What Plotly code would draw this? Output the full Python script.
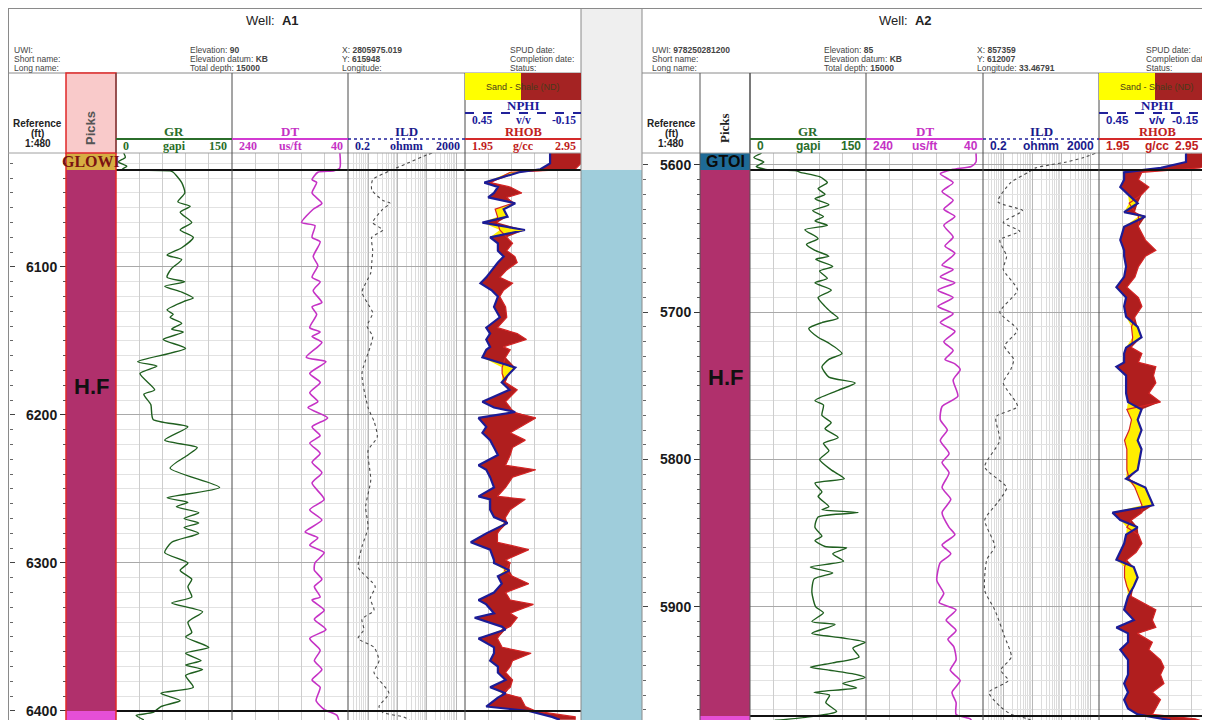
import math
import plotly.graph_objects as go

# The page body adds an 8px margin, so the figure is placed at (8, 8) of the window.
OFF = 8
W, H = 1210 - OFF, 720 - OFF
def PX(px): return (px - OFF) / W
def PY(py): return 1 - (py - OFF) / H

SANS = "Liberation Sans"
SERIF = "Liberation Serif"

# ---------------- Well A1 data ----------------
a1_gr_depth = [6023, 6026, 6029, 6032, 6034, 6035, 6036, 6043, 6050, 6056, 6059, 6063, 6070, 6075, 6080, 6087, 6092, 6095, 6101, 6107,
               6110, 6113, 6117, 6121, 6123, 6129, 6132, 6134, 6138, 6142, 6144, 6149, 6155, 6164, 6167, 6172, 6183, 6186, 6193, 6203,
               6208, 6217, 6222, 6227, 6236, 6249, 6256, 6259, 6262, 6266, 6270, 6273, 6276, 6280, 6286, 6293, 6300, 6305, 6311, 6316,
               6323, 6327, 6333, 6340, 6347, 6350, 6357, 6361, 6366, 6369, 6372, 6376, 6384, 6388, 6393, 6397, 6401, 6403, 6406]
a1_gr = [10, 12, 3, 14, 8, 70, 74, 85, 89, 80, 96, 83, 98, 83, 100, 85, 66, 85, 72, 66,
         89, 63, 85, 100, 89, 66, 74, 70, 85, 72, 87, 61, 90, 28, 53, 31, 50, 36, 45, 48,
         93, 63, 105, 93, 70, 134, 66, 93, 78, 107, 88, 107, 88, 107, 72, 63, 93, 83, 98, 93,
         98, 72, 112, 93, 98, 90, 120, 90, 110, 90, 112, 90, 100, 58, 83, 58, 48, 26, 36]

a1_dt_depth = [6023, 6033, 6035, 6036, 6041, 6043, 6050, 6057, 6061, 6070, 6072, 6080, 6083, 6093, 6099, 6107, 6110, 6116, 6124, 6127,
               6132, 6141, 6144, 6147, 6151, 6161, 6164, 6172, 6178, 6185, 6191, 6195, 6202, 6208, 6214, 6219, 6226, 6232, 6239, 6246,
               6257, 6264, 6271, 6279, 6283, 6288, 6293, 6300, 6305, 6311, 6316, 6323, 6325, 6332, 6338, 6345, 6351, 6359, 6366, 6372,
               6379, 6384, 6393, 6399, 6403, 6406]
a1_dt = [54, 54, 64, 92, 102, 94, 102, 85, 100, 120, 97, 102, 88, 100, 92, 102, 88, 100, 85, 102,
         94, 106, 88, 102, 85, 112, 78, 106, 88, 106, 92, 109, 75, 102, 88, 106, 88, 102, 85, 102,
         81, 106, 85, 114, 92, 106, 81, 97, 98, 85, 98, 88, 102, 81, 98, 78, 106, 88, 98, 85,
         102, 88, 95, 81, 59, 56]

a1_ild_depth = [6023, 6024, 6030, 6035, 6041, 6048, 6055, 6057, 6061, 6070, 6075, 6080, 6089, 6097, 6104, 6117, 6124, 6131, 6140, 6147,
                6154, 6172, 6195, 6205, 6215, 6224, 6244, 6262, 6276, 6289, 6303, 6316, 6324, 6332, 6338, 6345, 6351, 6357, 6366, 6374,
                6388, 6397, 6401, 6404, 6406]
a1_ild = [150, 108, 21, 5.5, 1.4, 1.3, 3.1, 5.5, 3.1, 1.4, 3.1, 1.3, 1.4, 1.3, 1.2, 0.6, 0.9, 1.4, 0.9, 1.4,
          1.15, 0.6, 0.97, 1.6, 2.0, 0.97, 1.2, 0.8, 0.97, 0.6, 0.45, 1.7, 1.15, 1.55, 0.6, 0.7, 0.44, 1.55, 2.3, 1.55,
          5.0, 2.3, 3.1, 16, 25]

a1_nd_depth = [6023, 6030, 6034, 6036, 6043, 6046, 6050, 6053, 6057, 6061, 6066, 6070, 6075, 6080, 6084, 6089, 6093, 6097, 6102, 6107,
               6111, 6116, 6120, 6127, 6134, 6141, 6145, 6149, 6154, 6156, 6161, 6168, 6172, 6178, 6183, 6191, 6195, 6198, 6202, 6208,
               6212, 6217, 6222, 6227, 6234, 6237, 6242, 6249, 6255, 6257, 6264, 6269, 6273, 6280, 6286, 6291, 6298, 6300, 6305, 6309,
               6314, 6320, 6325, 6328, 6334, 6337, 6343, 6345, 6351, 6357, 6361, 6366, 6370, 6374, 6379, 6384, 6388, 6391, 6397, 6400,
               6404, 6406]
a1_rhob = [2.95, 2.95, 2.90, 2.34, 2.17, 2.34, 2.44, 2.31, 2.36, 2.21, 2.23, 2.23, 2.25, 2.31, 2.36, 2.31, 2.38, 2.40, 2.31, 2.25,
           2.36, 2.28, 2.25, 2.30, 2.31, 2.23, 2.40, 2.48, 2.28, 2.34, 2.30, 2.27, 2.27, 2.30, 2.40, 2.30, 2.34, 2.35, 2.56, 2.43,
           2.34, 2.47, 2.36, 2.34, 2.30, 2.56, 2.36, 2.30, 2.23, 2.47, 2.34, 2.30, 2.29, 2.23, 2.23, 2.50, 2.30, 2.34, 2.29, 2.36,
           2.50, 2.30, 2.34, 2.54, 2.34, 2.40, 2.34, 2.27, 2.23, 2.27, 2.52, 2.36, 2.34, 2.30, 2.36, 2.34, 2.27, 2.43, 2.47, 2.56,
           2.90, 2.90]
a1_nphi = [0.01, 0.01, 0.06, 0.17, 0.35, 0.28, 0.30, 0.33, 0.19, 0.25, 0.23, 0.36, 0.14, 0.32, 0.28, 0.28, 0.25, 0.28, 0.31, 0.34,
           0.37, 0.31, 0.28, 0.30, 0.27, 0.34, 0.32, 0.34, 0.32, 0.34, 0.36, 0.19, 0.22, 0.26, 0.22, 0.36, 0.30, 0.19, 0.38, 0.34,
           0.36, 0.32, 0.30, 0.28, 0.38, 0.34, 0.32, 0.30, 0.38, 0.32, 0.32, 0.30, 0.23, 0.34, 0.42, 0.32, 0.30, 0.30, 0.22, 0.28,
           0.26, 0.30, 0.38, 0.34, 0.30, 0.40, 0.26, 0.24, 0.38, 0.30, 0.30, 0.32, 0.28, 0.28, 0.24, 0.32, 0.24, 0.28, 0.34, 0.12,
           0.00, -0.04]

a1_pick_tops = [6000.0, 6034.5, 6400.0]
a1_pick_bases = [6034.5, 6400.0, 6450.0]
a1_pick_names = ["GLOWI", "H.F", ""]
a1_pick_label_depths = [6028.7, 6181.0, None]

# ---------------- Well A2 data ----------------
a2_gr_depth = [5592, 5595, 5598, 5601, 5603, 5604, 5605, 5608, 5612, 5616, 5620, 5623, 5627, 5631, 5635, 5638, 5641, 5644, 5650, 5654,
               5658, 5662, 5664, 5669, 5672, 5677, 5680, 5685, 5690, 5696, 5700, 5704, 5707, 5711, 5717, 5721, 5728, 5732, 5737, 5744,
               5748, 5753, 5760, 5763, 5770, 5775, 5779, 5785, 5789, 5794, 5800, 5807, 5813, 5816, 5822, 5825, 5832, 5834, 5836, 5839,
               5846, 5852, 5855, 5859, 5860, 5864, 5869, 5873, 5877, 5881, 5890, 5900, 5904, 5910, 5912, 5918, 5921, 5924, 5928, 5934,
               5938, 5941, 5943, 5946, 5948, 5952, 5955, 5958, 5960, 5965, 5971, 5975, 5977]
a2_gr = [15, 5, 18, 8, 20, 60, 65, 90, 100, 88, 97, 84, 102, 81, 95, 84, 100, 71, 88, 73,
         84, 102, 85, 107, 90, 100, 84, 105, 88, 97, 105, 114, 93, 76, 88, 102, 119, 102, 93, 102,
         136, 114, 84, 95, 93, 105, 97, 114, 95, 102, 90, 105, 122, 84, 93, 88, 102, 93, 140, 88,
         84, 93, 84, 97, 125, 107, 121, 78, 107, 83, 80, 85, 95, 80, 110, 80, 118, 149, 133, 141,
         107, 78, 103, 138, 149, 120, 138, 83, 103, 98, 112, 72, 32]

a2_dt_depth = [5592, 5598, 5601, 5603, 5606, 5612, 5618, 5624, 5630, 5635, 5641, 5649, 5655, 5660, 5668, 5671, 5676, 5680, 5685, 5690,
               5696, 5701, 5707, 5713, 5720, 5726, 5732, 5735, 5739, 5746, 5757, 5764, 5773, 5780, 5787, 5796, 5802, 5809, 5819, 5827,
               5836, 5846, 5851, 5858, 5864, 5870, 5882, 5891, 5897, 5902, 5909, 5916, 5922, 5927, 5936, 5943, 5950, 5958, 5965, 5973,
               5976, 5977]
a2_dt = [52, 52, 60, 91, 113, 91, 110, 91, 107, 88, 107, 91, 105, 88, 110, 91, 113, 88, 117, 91,
         117, 91, 113, 88, 107, 91, 105, 88, 79, 91, 83, 110, 113, 101, 113, 98, 110, 98, 110, 95,
         110, 98, 88, 110, 95, 113, 119, 107, 115, 86, 103, 86, 100, 90, 86, 96, 79, 93, 86, 86,
         62, 60]

a2_ild_depth = [5592, 5595, 5598, 5600, 5602, 5605, 5612, 5625, 5631, 5639, 5645, 5651, 5662, 5671, 5685, 5700, 5712, 5723, 5732, 5739,
                5748, 5764, 5771, 5787, 5805, 5819, 5829, 5841, 5859, 5868, 5889, 5902, 5920, 5934, 5943, 5950, 5958, 5968, 5973, 5976,
                5977]
a2_ild = [1500, 600, 150, 40, 13, 7.4, 1.8, 0.65, 4.6, 1.0, 3.7, 0.76, 1.3, 1.0, 3.1, 0.76, 3.1, 1.1, 2.3, 1.8,
          1.0, 3.1, 0.56, 0.76, 0.23, 1.3, 0.65, 0.23, 0.51, 0.27, 0.23, 0.51, 1.1, 1.9, 0.82, 1.5, 0.32, 0.82, 1.9, 7,
          9]

a2_nd_depth = [5592, 5598, 5602, 5605, 5610, 5615, 5620, 5626, 5632, 5635, 5642, 5651, 5658, 5662, 5669, 5676, 5683, 5690, 5696, 5703,
               5710, 5717, 5724, 5728, 5734, 5737, 5743, 5748, 5755, 5761, 5766, 5773, 5780, 5787, 5793, 5800, 5807, 5813, 5819, 5825,
               5831, 5836, 5841, 5846, 5851, 5857, 5863, 5868, 5873, 5880, 5886, 5893, 5902, 5909, 5914, 5918, 5924, 5929, 5936, 5941,
               5946, 5952, 5958, 5963, 5969, 5973, 5976, 5977]
a2_rhob = [2.95, 2.95, 2.82, 2.32, 2.29, 2.38, 2.32, 2.21, 2.26, 2.29, 2.29, 2.35, 2.44, 2.35, 2.29, 2.26, 2.19, 2.29, 2.32, 2.26,
           2.23, 2.24, 2.23, 2.32, 2.29, 2.44, 2.42, 2.44, 2.38, 2.48, 2.19, 2.23, 2.21, 2.17, 2.19, 2.19, 2.19, 2.21, 2.26, 2.29,
           2.32, 2.32, 2.23, 2.19, 2.29, 2.32, 2.27, 2.19, 2.17, 2.17, 2.19, 2.23, 2.44, 2.41, 2.44, 2.28, 2.41, 2.38, 2.48, 2.51,
           2.48, 2.51, 2.41, 2.48, 2.44, 2.41, 2.78, 2.82]
a2_nphi = [0.00, 0.00, 0.13, 0.32, 0.32, 0.34, 0.30, 0.25, 0.32, 0.21, 0.32, 0.34, 0.32, 0.32, 0.31, 0.32, 0.36, 0.31, 0.32, 0.31,
           0.25, 0.23, 0.31, 0.32, 0.32, 0.36, 0.31, 0.31, 0.31, 0.30, 0.23, 0.25, 0.23, 0.25, 0.23, 0.24, 0.25, 0.31, 0.21, 0.19,
           0.17, 0.38, 0.34, 0.25, 0.31, 0.32, 0.34, 0.36, 0.27, 0.25, 0.27, 0.30, 0.32, 0.27, 0.36, 0.30, 0.30, 0.34, 0.30, 0.30,
           0.30, 0.32, 0.30, 0.32, 0.30, 0.25, 0.11, 0.08]

a2_pick_tops = [5580.0, 5603.4, 5974.0]
a2_pick_bases = [5603.4, 5974.0, 6020.0]
a2_pick_names = ["GTOI", "H.F", ""]
a2_pick_label_depths = [5597.6, 5744.0, None]

# scales (axis ranges of each track)
gr_scale = [0, 150]
dt_scale = [240, 40]
ild_scale = [0.2, 2000]
rhob_scale = [1.95, 2.95]
nphi_scale = [0.45, -0.15]
depth_ticks = [100, 10]

# ---------------- styling ----------------
GR_COL = "#1f5f1f"
DT_COL = "#c532c5"
ILD_COL = "#4a4a4a"
RHOB_COL = "#d42424"
NPHI_COL = "#1c1c96"
SHALE_COL = "#b01e1e"
SAND_COL = "#ffee00"
PICK_COLS_A1 = ["#d6ae42", "#b0306c", "#e54fd6"]
PICK_COLS_A2 = ["#1e6a96", "#b0306c", "#e54fd6"]

wells = [
    dict(name="A1", edges=[66, 116, 232, 348, 465, 581], view=[6406.1, 6023.0], left=9, base=1, y="y", yl="y3",
         gr_d=a1_gr_depth, gr=a1_gr, dt_d=a1_dt_depth, dt=a1_dt, ild_d=a1_ild_depth, ild=a1_ild,
         nd_d=a1_nd_depth, rhob=a1_rhob, nphi=a1_nphi, tops=a1_pick_tops, bases=a1_pick_bases,
         names=a1_pick_names, lab=a1_pick_label_depths, cols=PICK_COLS_A1),
    dict(name="A2", edges=[700, 750, 866, 983, 1099, 1210], view=[5976.8, 5591.9], left=642, base=7, y="y2", yl="y4",
         gr_d=a2_gr_depth, gr=a2_gr, dt_d=a2_dt_depth, dt=a2_dt, ild_d=a2_ild_depth, ild=a2_ild,
         nd_d=a2_nd_depth, rhob=a2_rhob, nphi=a2_nphi, tops=a2_pick_tops, bases=a2_pick_bases,
         names=a2_pick_names, lab=a2_pick_label_depths, cols=PICK_COLS_A2),
]

TRACK_TOP = 153
ydom = [0, PY(TRACK_TOP)]
FULL_W = 116.0

def xk(n): return "xaxis" if n == 1 else f"xaxis{n}"
def xr(n): return "x" if n == 1 else f"x{n}"

fig = go.Figure()
layout = {}
shapes = []
annots = []

GRID = "#cdcdcd"

def base_x(dom, rng, **kw):
    d = dict(domain=[PX(dom[0]), PX(dom[1])], range=rng, showticklabels=False, ticks="",
             showgrid=True, gridcolor=GRID, gridwidth=1, zeroline=False, showline=False, fixedrange=True)
    d.update(kw)
    return d

SPL = dict(shape="spline", smoothing=0.6)

for wi, w in enumerate(wells):
    e = w["edges"]
    b = w["base"]
    yname = w["y"]
    yaxkey = "yaxis" if yname == "y" else "yaxis" + yname[1:]
    nd_w = e[5] - e[4]
    frac = nd_w / FULL_W
    rhob_rng = [rhob_scale[0], rhob_scale[0] + (rhob_scale[1] - rhob_scale[0]) * frac]
    nphi_rng = [nphi_scale[0], nphi_scale[0] + (nphi_scale[1] - nphi_scale[0]) * frac]

    layout[xk(b)] = base_x((e[0], e[1]), [0, 1], anchor=yname, showgrid=False, visible=False)
    layout[xk(b + 1)] = base_x((e[1], e[2]), gr_scale, anchor=yname, tick0=0, dtick=30)
    layout[xk(b + 2)] = base_x((e[2], e[3]), dt_scale, anchor=yname, tick0=40, dtick=40)
    layout[xk(b + 3)] = base_x((e[3], e[4]), [math.log10(ild_scale[0]), math.log10(ild_scale[1])], anchor=yname,
                               type="log", dtick=1, gridcolor="#b8b8b8",
                               minor=dict(dtick="D1", showgrid=True, gridcolor="#dcdcdc"))
    layout[xk(b + 4)] = base_x((e[4], e[5]), rhob_rng, anchor=yname, tick0=1.95, dtick=0.2)
    layout[xk(b + 5)] = dict(range=nphi_rng, overlaying=xr(b + 4), anchor=yname, visible=False, fixedrange=True)

    layout[yaxkey] = dict(domain=ydom, range=w["view"], anchor="free", position=PX(e[0]), side="left",
                          tickmode="linear", tick0=0, dtick=depth_ticks[0], ticks="outside", ticklen=6,
                          tickcolor="#333", showticklabels=True,
                          tickfont=dict(family=SANS, size=14, color="#1a1a1a", weight="bold"),
                          showgrid=True, gridcolor="#a9a9a9",
                          minor=dict(tick0=0, dtick=depth_ticks[1], ticks="outside", ticklen=3, tickcolor="#555",
                                     showgrid=True, gridcolor="#e2e2e2"),
                          zeroline=False, showline=False, fixedrange=True)
    ylkey = "yaxis" + w["yl"][1:]
    layout[ylkey] = dict(domain=ydom, range=w["view"], overlaying=yname, anchor="free", position=PX(w["left"]),
                         side="right", tickmode="linear", tick0=0, dtick=depth_ticks[0], ticks="outside", ticklen=5,
                         tickcolor="#444", showticklabels=False, showgrid=False,
                         minor=dict(tick0=0, dtick=depth_ticks[1], ticks="outside", ticklen=3, tickcolor="#666"),
                         zeroline=False, showline=False, fixedrange=True)
    # invisible anchor trace so the overlay depth axis is drawn
    fig.add_trace(go.Scatter(x=[0.5], y=[w["view"][0]], xaxis=xr(b), yaxis=w["yl"], mode="markers",
                             marker=dict(opacity=0), hoverinfo="skip"))

    # picks (zones) as bars
    thick = [bb - t for t, bb in zip(w["tops"], w["bases"])]
    fig.add_trace(go.Bar(x=[0.5] * len(thick), y=thick, base=w["tops"], width=1, marker_color=w["cols"],
                         marker_line_width=0, xaxis=xr(b), yaxis=yname, hoverinfo="skip"))
    for i, (nm, ld) in enumerate(zip(w["names"], w["lab"])):
        if not nm:
            continue
        if i == 0:
            fnt = dict(family=SERIF if wi == 0 else SANS, size=16, color="#7a1212" if wi == 0 else "#0a0a0a")
        else:
            fnt = dict(family=SANS, size=22, color="#111")
        annots.append(dict(x=0.5, y=ld, xref=xr(b), yref=yname, text=f"<b>{nm}</b>", showarrow=False,
                           font=fnt, xanchor="center", yanchor="middle"))

    # GR, DT, ILD
    fig.add_trace(go.Scatter(x=w["gr"], y=w["gr_d"], xaxis=xr(b + 1), yaxis=yname, mode="lines",
                             line=dict(color=GR_COL, width=1.4, **SPL), hoverinfo="skip"))
    fig.add_trace(go.Scatter(x=w["dt"], y=w["dt_d"], xaxis=xr(b + 2), yaxis=yname, mode="lines",
                             line=dict(color=DT_COL, width=1.6, **SPL), hoverinfo="skip"))
    fig.add_trace(go.Scatter(x=w["ild"], y=w["ild_d"], xaxis=xr(b + 3), yaxis=yname, mode="lines",
                             line=dict(color=ILD_COL, width=1.1, dash="dot", **SPL), hoverinfo="skip"))

    # density-neutron with sand/shale fill
    neq = [rhob_scale[0] + (nphi_scale[0] - n) / (nphi_scale[0] - nphi_scale[1]) * (rhob_scale[1] - rhob_scale[0])
           for n in w["nphi"]]
    hi = [max(r, q) for r, q in zip(w["rhob"], neq)]
    lo = [min(r, q) for r, q in zip(w["rhob"], neq)]
    for edge, fc in ((hi, SHALE_COL), (lo, SAND_COL)):
        fig.add_trace(go.Scatter(x=neq, y=w["nd_d"], xaxis=xr(b + 4), yaxis=yname, mode="lines",
                                 line=dict(width=0), hoverinfo="skip"))
        fig.add_trace(go.Scatter(x=edge, y=w["nd_d"], xaxis=xr(b + 4), yaxis=yname, mode="lines",
                                 line=dict(width=0), fill="tonextx", fillcolor=fc, hoverinfo="skip"))
    fig.add_trace(go.Scatter(x=w["rhob"], y=w["nd_d"], xaxis=xr(b + 4), yaxis=yname, mode="lines",
                             line=dict(color=RHOB_COL, width=1.2), hoverinfo="skip"))
    fig.add_trace(go.Scatter(x=w["nphi"], y=w["nd_d"], xaxis=xr(b + 5), yaxis=yname, mode="lines",
                             line=dict(color=NPHI_COL, width=2.2), hoverinfo="skip"))

    # pick boundary lines
    for t in w["tops"][1:]:
        shapes.append(dict(type="line", xref="paper", yref=yname, x0=PX(e[1]), x1=PX(e[5]), y0=t, y1=t,
                           line=dict(color="#111", width=2), layer="above"))

# ---------------- header / frame drawing ----------------
def rect(x0, y0, x1, y1, fill, lc=None, lw=0, layer="below"):
    shapes.append(dict(type="rect", xref="paper", yref="paper", x0=PX(x0), x1=PX(x1), y0=PY(y1), y1=PY(y0),
                       fillcolor=fill, line=dict(color=lc or fill, width=lw), layer=layer))

def line(x0, y0, x1, y1, color, width=1, dash=None, layer="above"):
    ln = dict(color=color, width=width)
    if dash:
        ln["dash"] = dash
    shapes.append(dict(type="line", xref="paper", yref="paper", x0=PX(x0), x1=PX(x1), y0=PY(y0), y1=PY(y1),
                       line=ln, layer=layer))

def T(px, py, text, size=9, color="#333", family=SANS, xanchor="left", angle=0):
    annots.append(dict(x=PX(px), y=PY(py), xref="paper", yref="paper", text=text, showarrow=False,
                       font=dict(family=family, size=size, color=color), xanchor=xanchor, yanchor="middle",
                       textangle=angle))

# gap column between wells
rect(581, 8, 642, 170, "#efefef")
rect(581, 170, 642, 720, "#9fcddb", layer="above")

# frame
line(8, 8.5, 1210, 8.5, "#8a8a8a")
line(8.5, 8, 8.5, 720, "#8a8a8a")
line(581, 8, 581, 720, "#8a8a8a")
line(642, 8, 642, 720, "#8a8a8a")
for (l, r) in ((8, 581), (642, 1210)):
    line(l, 73, r, 73, "#8a8a8a")
    line(l, 153, r, 153, "#a0a0a0")

infos = [
    (["UWI:", "Short name:", "Long name:"],
     ["Elevation: <b>90</b>", "Elevation datum: <b>KB</b>", "Total depth: <b>15000</b>"],
     ["X: <b>2805975.019</b>", "Y: <b>615948</b>", "Longitude:"],
     ["SPUD date:", "Completion date:", "Status:"]),
    (["UWI: <b>978250281200</b>", "Short name:", "Long name:"],
     ["Elevation: <b>85</b>", "Elevation datum: <b>KB</b>", "Total depth: <b>15000</b>"],
     ["X: <b>857359</b>", "Y: <b>612007</b>", "Longitude: <b>33.46791</b>"],
     ["SPUD date:", "Completion date:", "Status:"]),
]
info_x = [(12, 188, 340, 508), (650, 822, 975, 1144)]
title_x = [272, 905]

for wi, w in enumerate(wells):
    e = w["edges"]
    T(title_x[wi], 20, f"Well:  <b>{w['name']}</b>", size=13, color="#222", xanchor="center")
    for ci, col in enumerate(infos[wi]):
        for ri, s in enumerate(col):
            T(info_x[wi][ci], 50 + 9 * ri, s, size=8.5, color="#444")
    refc = (w["left"] + e[0]) / 2
    T(refc, 123, "<b>Reference</b>", size=10, color="#222", xanchor="center")
    T(refc, 133, "<b>(ft)</b>", size=10, color="#222", xanchor="center")
    T(refc, 143, "<b>1:480</b>", size=10, color="#222", xanchor="center")

    if wi == 0:
        rect(e[0], 73, e[1], 153, "#f9caca", lc="#e02828", lw=1.5, layer="above")
        line(e[0], 153, e[0], 720, "#e02828", 1.5)
        line(e[1], 153, e[1], 720, "#e02828", 1.5)
        T((e[0] + e[1]) / 2, 128, "<b>Picks</b>", size=13, color="#555", family=SANS, xanchor="center", angle=-90)
    else:
        for xx in (e[0], e[1]):
            line(xx, 73, xx, 720, "#555")
        T((e[0] + e[1]) / 2, 128, "<b>Picks</b>", size=13, color="#222", family=SERIF, xanchor="center", angle=-90)
    for xx in e[2:5]:
        line(xx, 73, xx, 720, "#4a4a4a")
    line(e[1], 73, e[1], 153, "#4a4a4a")

    # sand / shale legend box
    rect(e[4], 73, e[4] + 56, 100, "#ffff00", layer="above")
    rect(e[4] + 56, 73, e[5], 100, "#a52323", layer="above")
    T(e[4] + 58, 87, "Sand - Shale (ND)", size=9, color="#4a3a1a", xanchor="center")

    # scale lines
    line(e[1], 139, e[2], 139, "#2b6d2b", 2)
    line(e[2], 139, e[3], 139, "#d23bd2", 2)
    line(e[3], 139, e[4], 139, "#22229a", 1.5, dash="dot")
    line(e[4], 139, e[5], 139, "#d42a2a", 2)
    line(e[4], 113, e[5], 113, "#22229a", 2, dash="dash")

    fam = SERIF if wi == 0 else SANS
    sz = 12
    rx = e[5] - 3 if wi == 0 else 1201
    hdr = [
        (e[1], e[2], "GR", "#2a6e2a", ["0", "gapi", "150"]),
        (e[2], e[3], "DT", DT_COL, ["240", "us/ft", "40"]),
        (e[3], e[4], "ILD", "#1a1a8c", ["0.2", "ohmm", "2000"]),
    ]
    for (a, bnd, nm, c2, sc) in hdr:
        T((a + bnd) / 2, 132, f"<b>{nm}</b>", size=13, color=c2, family=SERIF, xanchor="center")
        T(a + 5, 146, f"<b>{sc[0]}</b>", size=sz, color=c2, family=fam, xanchor="left")
        T((a + bnd) / 2, 146, f"<b>{sc[1]}</b>", size=sz, color=c2, family=fam, xanchor="center")
        T(bnd - 3, 146, f"<b>{sc[2]}</b>", size=sz, color=c2, family=fam, xanchor="right")
    ndc = e[4] + 58
    T(ndc, 106, "<b>NPHI</b>", size=13, color="#1a1a9a", family=SERIF, xanchor="center")
    T(e[4] + 5, 120, "<b>0.45</b>", size=11.5, color="#1a1a9a", family=fam, xanchor="left")
    T(ndc, 120, "<b>v/v</b>", size=11.5, color="#1a1a9a", family=fam, xanchor="center")
    T(rx, 120, "<b>-0.15</b>", size=11.5, color="#1a1a9a", family=fam, xanchor="right")
    T(ndc, 132, "<b>RHOB</b>", size=12.5, color="#c02020", family=SERIF, xanchor="center")
    T(e[4] + 5, 146, "<b>1.95</b>", size=sz, color="#c02020", family=fam, xanchor="left")
    T(ndc, 146, "<b>g/cc</b>", size=sz, color="#c02020", family=fam, xanchor="center")
    T(rx, 146, "<b>2.95</b>", size=sz, color="#c02020", family=fam, xanchor="right")

layout.update(dict(width=W, height=H, autosize=False, margin=dict(l=0, r=0, t=0, b=0),
                   paper_bgcolor="white", plot_bgcolor="white", showlegend=False,
                   shapes=shapes, annotations=annots, hovermode=False))
fig.update_layout(**layout)
fig.write_html("out.html")
